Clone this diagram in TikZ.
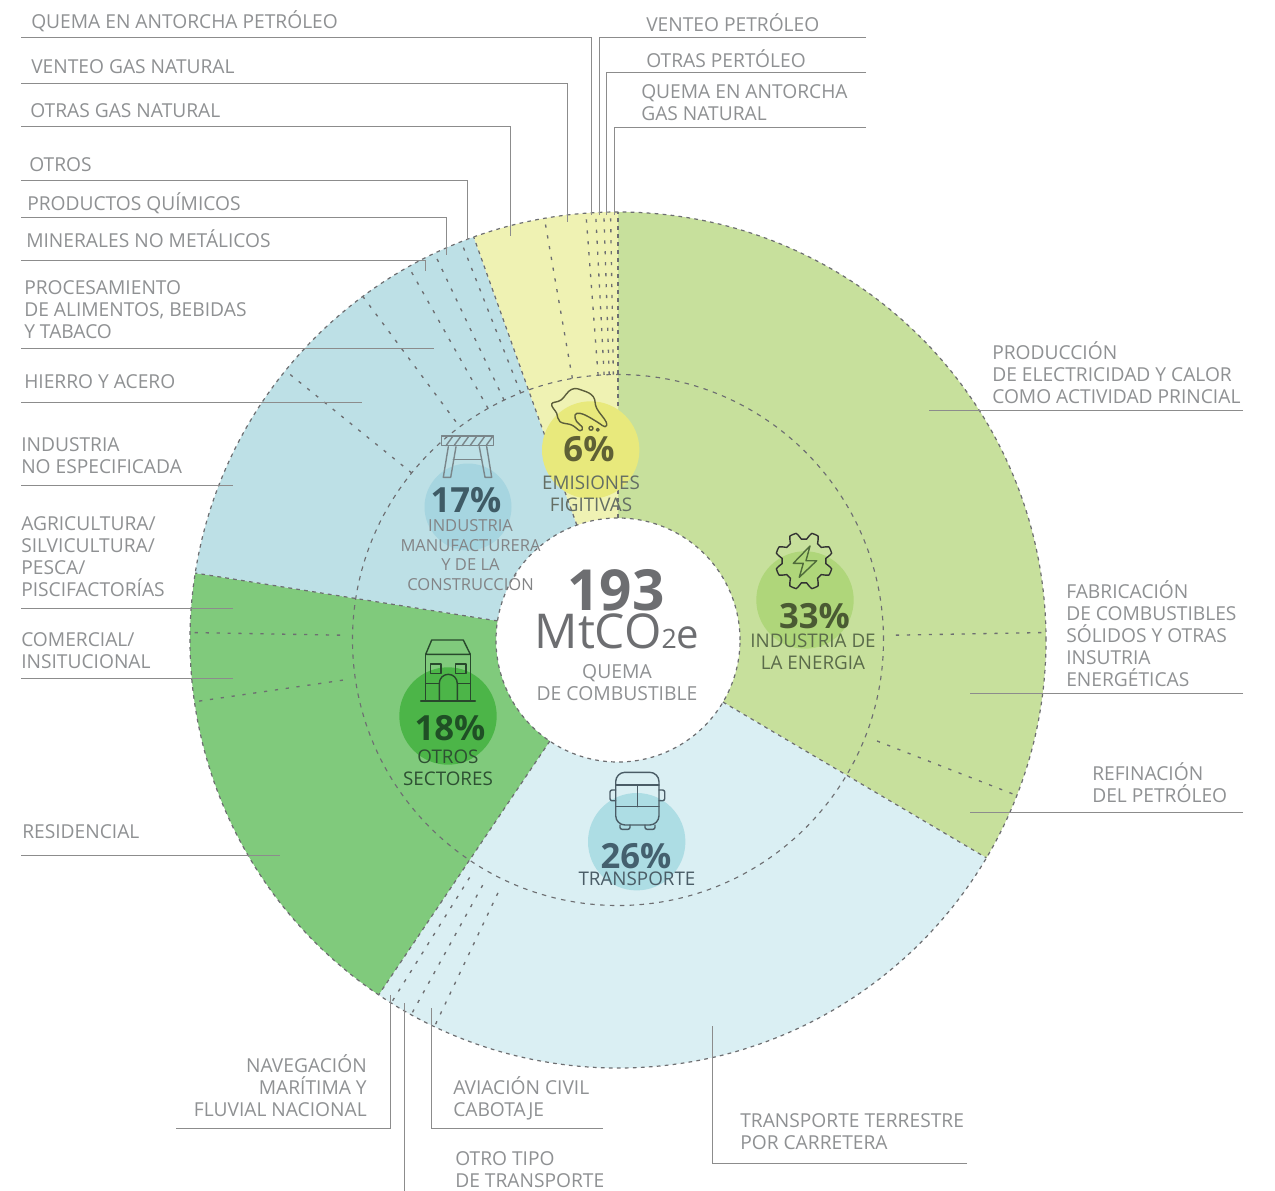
\documentclass[tikz,border=0pt]{standalone}
\usepackage{fontspec}
\setmainfont{Open Sans}
\definecolor{cProd}{HTML}{C7E09C}
\definecolor{cYel}{HTML}{EFF2B3}
\definecolor{cBlue}{HTML}{BDE0E6}
\definecolor{cGreen}{HTML}{80CA7C}
\definecolor{cSky}{HTML}{DAEFF3}
\definecolor{cDash}{HTML}{6D6E71}
\definecolor{cLead}{HTML}{8C8C8C}
\definecolor{cText}{HTML}{8F9193}
\newcommand{\sect}[3]{\fill[#1] ([shift={(#2:428)}]ctr) arc[start angle=#2,end angle=#3,radius=428] -- ([shift={(#3:122)}]ctr) arc[start angle=#3,end angle=#2,radius=122] -- cycle;}
\newcommand{\sub}[3]{\draw[subline] ([shift={(#1:#2)}]ctr) -- ([shift={(#1:#3)}]ctr);}
\tikzset{
  leader/.style={draw=cLead,line width=0.75pt},
  bound/.style={draw=cDash,line width=0.9pt,dash pattern=on 2.8pt off 3.2pt},
  midring/.style={draw=cDash,line width=0.85pt,dash pattern=on 3.4pt off 4pt},
  subline/.style={draw=cDash,line width=1pt,dash pattern=on 2.4pt off 5.8pt},
  lab/.style={inner sep=0pt,anchor=west,align=left,text=cText,font=\fontsize{14.4pt}{16.5pt}\selectfont,yshift=-1.3pt,execute at begin node=\strut,execute at end node=\strut},
  labr/.style={lab,anchor=east,align=right},
  pct/.style={inner sep=0pt,font=\fontsize{26pt}{28pt}\selectfont\bfseries},
  capt/.style={inner sep=0pt,align=center,font=\fontsize{14.1pt}{16.5pt}\selectfont},
  capsmall/.style={inner sep=0pt,align=center,text=cDash!85,font=\fontsize{12.4pt}{14.6pt}\selectfont},
  bubble/.style={circle,inner sep=0pt,minimum size=97.4*0.75pt},
  icon/.style={line width=1.05pt,line join=round,line cap=round},
}
\begin{document}
\begin{tikzpicture}[x=0.75pt,y=0.75pt]
\useasboundingbox (0,0) rectangle (1275,-1191);
\fill[white] (0,0) rectangle (1275,-1191);
\coordinate (ctr) at (618,-640);
% sectors
\sect{cProd}{90}{-30.6}
\sect{cSky}{-30.6}{-124}
\sect{cGreen}{-124}{-189}
\sect{cBlue}{171}{109.7}
\sect{cYel}{109.7}{90}
% rings and radial boundaries
\draw[bound] (ctr) circle[radius=428];
\draw[bound] (ctr) circle[radius=122];
\draw[midring] (ctr) circle[radius=265.5];
\foreach \a in {90,-30.6,-124,171,109.7}{
  \draw[bound] ([shift={(\a:122)}]ctr) -- ([shift={(\a:428)}]ctr);
}
% sub divisions
\sub{99.9}{265.5}{428}
\sub{94.3}{265.5}{428}
\sub{93}{265.5}{428}
\sub{91.9}{265.5}{428}
\sub{91}{265.5}{428}
\sub{111.5}{265.5}{428}
\sub{115.4}{265.5}{428}
\sub{119.3}{265.5}{428}
\sub{126.6}{272}{428}
\sub{141}{265.5}{428}
\sub{179}{278}{428}
\sub{188.3}{278}{428}
\sub{-122}{280}{428}
\sub{-118.9}{280}{428}
\sub{-115.4}{280}{428}
\sub{1}{278}{428}
\sub{-21.3}{278}{428}
% bubbles
\node[bubble,fill={rgb,255:red,175;green,214;blue,122}] (b33) at (805,-600) {};
\node[bubble,fill={rgb,255:red,232;green,233;blue,124}] (b6) at (590.7,-450) {};
\node[bubble,fill={rgb,255:red,166;green,213;blue,224},minimum size=87*0.75pt] (b17) at (468,-507) {};
\node[bubble,fill={rgb,255:red,76;green,181;blue,72}] (b18) at (448,-716) {};
\node[bubble,fill={rgb,255:red,173;green,221;blue,228}] (b26) at (636.7,-841.7) {};
% gear icon
\draw[icon,draw=black!80] plot[domain=0:360,samples=481] ({804+(25.3+3.4*max(-1,min(1,1.7*cos(8*\x+180))))*cos(\x)},{-561+(25.3+3.4*max(-1,min(1,1.7*cos(8*\x+180))))*sin(\x)}) -- cycle;
\draw[icon,draw={rgb,255:red,79;green,107;blue,58}] (810,-546) -- (793.3,-563.3) -- (803.3,-563.3) -- (799.3,-577.3) -- (816.7,-560.7) -- (806,-560.7) -- cycle;
% barrier icon
\begin{scope}[icon,draw={rgb,255:red,122;green,134;blue,138}]
\draw (441.7,-436) rectangle (493.3,-445.7);
\foreach \h in {446,454,462,470,478,486}{ \draw (\h,-445.7) -- (\h+7,-436); }
\draw (448.3,-446.7) -- (443.3,-477.3) -- (450.7,-477.3) -- (456,-446.7);
\draw (479.3,-446.7) -- (485,-477.3) -- (491.7,-477.3) -- (486.7,-446.7);
\draw (453.3,-459.3) -- (481.7,-459.3);
\end{scope}
% oil cloud icon
\begin{scope}[icon,draw={rgb,255:red,92;green,94;blue,60}]
\draw plot[smooth cycle,tension=0.7] coordinates {(551.7,-404) (561,-400) (571.7,-389.3) (583.3,-390.7) (593.3,-396.7) (596.7,-408.3) (606,-421.7) (605,-426.7) (598.3,-422.7) (588.3,-416.7) (580,-413.3) (575,-415) (576.7,-421.7) (582.3,-427.3) (580,-430.7) (571.7,-425) (560,-421.7) (556.7,-413.3) };
\draw (591,-428.3) circle[radius=2];
\draw (597.7,-429.7) circle[radius=1.4];
\end{scope}
% house icon
\begin{scope}[icon,draw={rgb,255:red,40;green,72;blue,44}]
\draw (425.7,-654.3) -- (431.7,-640) -- (463.3,-640) -- (470.3,-654.3) -- cycle;
\draw (425.7,-654.3) -- (425.7,-701);
\draw (470.3,-654.3) -- (470.3,-701);
\draw (420.7,-701) -- (475.3,-701);
\draw (430.7,-664) rectangle (441,-673.3);
\draw (455.3,-664) rectangle (466,-673.3);
\draw (439.3,-701) -- (439.3,-683.3) arc[start angle=180,end angle=0,radius=9] -- (457.3,-701);
\draw (425.7,-683.3) -- (439.3,-683.3);
\draw (457.3,-683.3) -- (470.3,-683.3);
\end{scope}
% bus icon
\begin{scope}[icon,draw={rgb,255:red,74;green,92;blue,102}]
\draw[rounded corners=7pt] (615.7,-772.3) rectangle (659,-825);
\draw (615.7,-785) -- (659,-785);
\draw (615.7,-806.7) -- (659,-806.7);
\draw (637.3,-785) -- (637.3,-806.7);
\draw[rounded corners=1.5pt] (615.7,-790) -- (610,-790) -- (610,-800.7) -- (615.7,-800.7);
\draw[rounded corners=1.5pt] (659,-790) -- (664.7,-790) -- (664.7,-800.7) -- (659,-800.7);
\draw[rounded corners=1.5pt] (620,-825) -- (620,-829.3) -- (630,-829.3) -- (630,-825);
\draw[rounded corners=1.5pt] (645,-825) -- (645,-829.3) -- (655,-829.3) -- (655,-825);
\end{scope}
% percentages and captions
\node[pct,text={rgb,255:red,74;green,90;blue,51}] (p33) at (814.5,-616) {33\%};
\node[capt,text={rgb,255:red,90;green,107;blue,74}] (c33) at (813,-652) {INDUSTRIA DE\\LA ENERGIA};
\node[pct,text={rgb,255:red,95;green,96;blue,53}] (p6) at (589,-449) {6\%};
\node[capt,text={rgb,255:red,100;green,110;blue,100}] (c6) at (591,-494) {EMISIONES\\FIGITIVAS};
\node[pct,text={rgb,255:red,63;green,91;blue,102}] (p17) at (466,-500) {17\%};
\node[capsmall] (c17) at (470.5,-555) {INDUSTRIA\\MANUFACTURERA\\Y DE LA\\CONSTRUCCIÓN};
\node[pct,text={rgb,255:red,31;green,79;blue,37}] (p18) at (450,-728) {18\%};
\node[capt,text={rgb,255:red,45;green,80;blue,50}] (c18) at (448,-768) {OTROS\\SECTORES};
\node[pct,text={rgb,255:red,68;green,96;blue,110}] (p26) at (636,-856) {26\%};
\node[capt,text={rgb,255:red,74;green,92;blue,102}] (c26) at (637,-879) {TRANSPORTE};
% centre
\node[inner sep=0pt,text=cDash,font=\fontsize{42.5pt}{44pt}\selectfont\bfseries] (n193) at (616,-590) {193};
\node[inner sep=0pt,text=cDash,font=\fontsize{36pt}{40pt}\selectfont] (nmt) at (617,-631) {MtCO{\fontsize{20pt}{22pt}\selectfont 2}{\fontsize{30pt}{32pt}\selectfont e}};
\node[capt,font=\fontsize{14.5pt}{16.5pt}\selectfont,text=cText] (nq) at (617,-683) {QUEMA\\DE COMBUSTIBLE};
% labels
\node[lab] (t1) at (31,-21) {QUEMA EN ANTORCHA PETRÓLEO};
\node[lab] (t2) at (31,-67) {VENTEO GAS NATURAL};
\node[lab] (t3) at (30,-111) {OTRAS GAS NATURAL};
\node[lab] (t4) at (29,-165) {OTROS};
\node[lab] (t5) at (27,-203) {PRODUCTOS QUÍMICOS};
\node[lab] (t6) at (26,-240) {MINERALES NO METÁLICOS};
\node[lab] (t7) at (24,-311) {PROCESAMIENTO\\DE ALIMENTOS, BEBIDAS\\Y TABACO};
\node[lab] (t8) at (24,-382) {HIERRO Y ACERO};
\node[lab] (t9) at (21,-457) {INDUSTRIA\\NO ESPECIFICADA};
\node[lab] (t10) at (21,-558) {AGRICULTURA/\\SILVICULTURA/\\PESCA/\\PISCIFACTORÍAS};
\node[lab] (t11) at (21,-652) {COMERCIAL/\\INSITUCIONAL};
\node[lab] (t12) at (22,-832) {RESIDENCIAL};
\node[labr] (t13) at (367,-1087) {NAVEGACIÓN\\MARÍTIMA Y\\FLUVIAL NACIONAL};
\node[lab] (t14) at (453,-1098) {AVIACIÓN CIVIL\\CABOTAJE};
\node[lab] (t15) at (455,-1171) {OTRO TIPO\\DE TRANSPORTE};
\node[lab] (t16) at (740,-1133) {TRANSPORTE TERRESTRE\\POR CARRETERA};
\node[lab] (t17) at (1092,-784) {REFINACIÓN\\DEL PETRÓLEO};
\node[lab] (t18) at (1066,-635) {FABRICACIÓN\\DE COMBUSTIBLES\\SÓLIDOS Y OTRAS\\INSUTRIA\\ENERGÉTICAS};
\node[lab] (t19) at (992,-374) {PRODUCCIÓN\\DE ELECTRICIDAD Y CALOR\\COMO ACTIVIDAD PRINCIAL};
\node[lab] (t20) at (646,-24) {VENTEO PETRÓLEO};
\node[lab] (t21) at (646,-60) {OTRAS PERTÓLEO};
\node[lab] (t22) at (641,-104) {QUEMA EN ANTORCHA\\GAS NATURAL};
% leader ends
\foreach \n/\xa/\ya/\xb/\yb in {
 a1/21/38/591/215, a2/21/84/567/222, a3/21/127/510/236, a4/21/181/467/240,
 a5/21/218/446/255, a6/21/261/425/271, a13/176/1128/390/995, a14/603/1128/431/1008,
 a16/967/1163/712/1026, a20/866/38/599/215, a21/866/73/606/215, a22/866/128/614/215}{
  \coordinate (\n s) at (\xa,-\ya);
  \coordinate (\n e) at (\xb,-\yb);
  \draw[leader] (\n s) -| (\n e);
}
\foreach \n/\xa/\ya/\xb/\yb in {
 a7/21/349/434/349, a8/21/402/362/402, a9/21/485/233/485, a10/21/608/233/608,
 a11/21/678/233/678, a12/21/855/280/855, a15/404/1191/404/1003, a17/1243/812/970/812,
 a18/1243/693/970/693, a19/1243/410/929/410}{
  \coordinate (\n s) at (\xa,-\ya);
  \coordinate (\n e) at (\xb,-\yb);
  \draw[leader] (\n s) -- (\n e);
}
\end{tikzpicture}
\end{document}
